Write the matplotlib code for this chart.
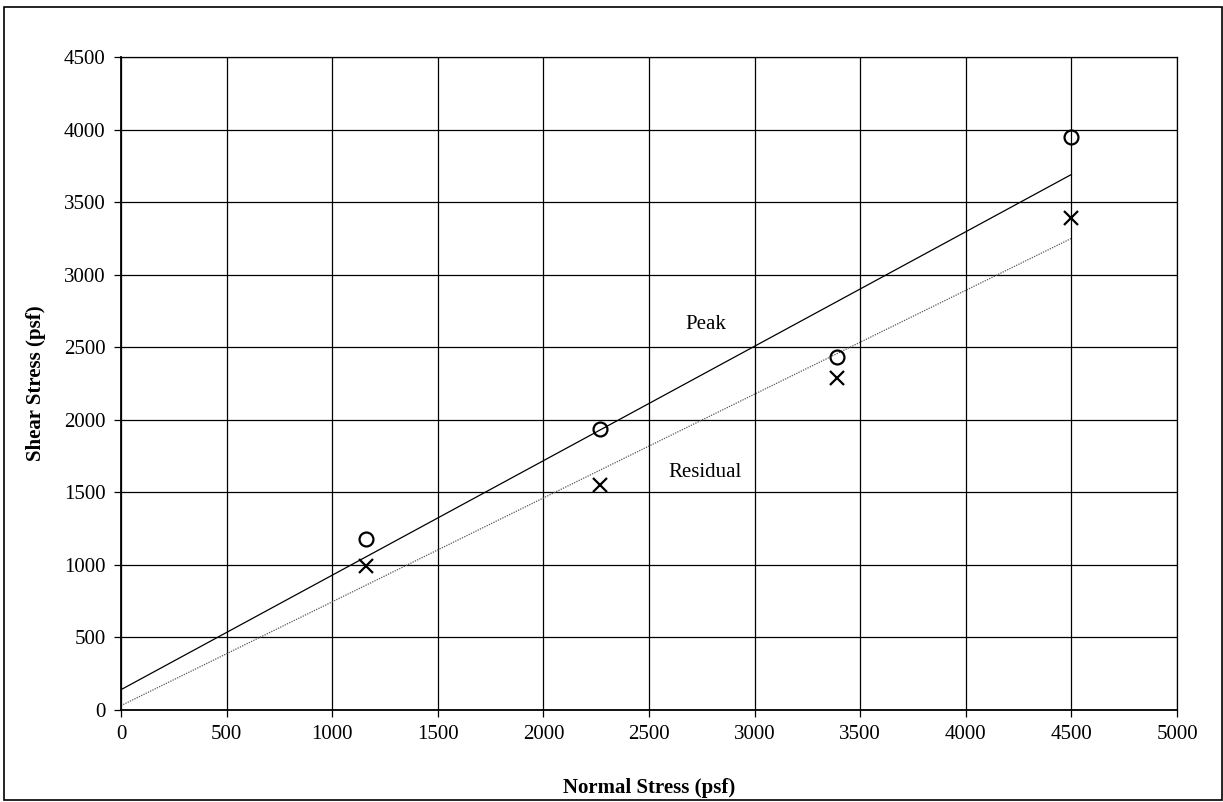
import matplotlib.pyplot as plt
import numpy as np

plt.rcParams['font.family'] = ['Liberation Serif', 'DejaVu Serif']

# data
normal = [1160, 2270, 3390, 4500]
peak = [1180, 1940, 2430, 3950]
residual = [990, 1550, 2290, 3390]

# fitted envelopes (intercept, slope)
peak_fit = (140, 0.789)
resid_fit = (30, 0.7156)
fit_x = [0, 4500]

fig = plt.figure(figsize=(12.23, 8.02), dpi=100)
ax = fig.add_axes([0.0989, 0.1147, 0.8635, 0.8142])

px = np.array(fit_x)
ax.plot(px, peak_fit[0] + peak_fit[1] * px, color='black', lw=0.9)
ax.plot(px, resid_fit[0] + resid_fit[1] * px, color='#555555', lw=0.9, ls=(0, (1, 1)))

ax.plot(normal, peak, 'o', ms=10, mfc='none', mec='black', mew=1.6)
ax.plot(normal, residual, 'x', ms=10, color='black', mew=1.6)

ax.text(2670, 2655, 'Peak', fontsize=15, va='center')
ax.text(2590, 1640, 'Residual', fontsize=15, va='center')

ax.set_xlim(0, 5000)
ax.set_ylim(0, 4500)
ax.set_xticks(range(0, 5001, 500))
ax.set_yticks(range(0, 4501, 500))
ax.grid(True, color='black', lw=0.9)
ax.tick_params(direction='out', length=5, width=0.9, labelsize=15, pad=6)
for s in ['top', 'right']:
    ax.spines[s].set_linewidth(0.9)
for s in ['left', 'bottom']:
    ax.spines[s].set_linewidth(1.3)

ax.set_xlabel('Normal Stress (psf)', fontsize=15, fontweight='bold', labelpad=24)
ax.set_ylabel('Shear Stress (psf)', fontsize=15, fontweight='bold', labelpad=13)

fig.patches.append(plt.Rectangle((0.003, 0.002), 0.996, 0.989, transform=fig.transFigure,
                                 fill=False, ec='black', lw=1.2))

fig.savefig('out.png', dpi=100)
